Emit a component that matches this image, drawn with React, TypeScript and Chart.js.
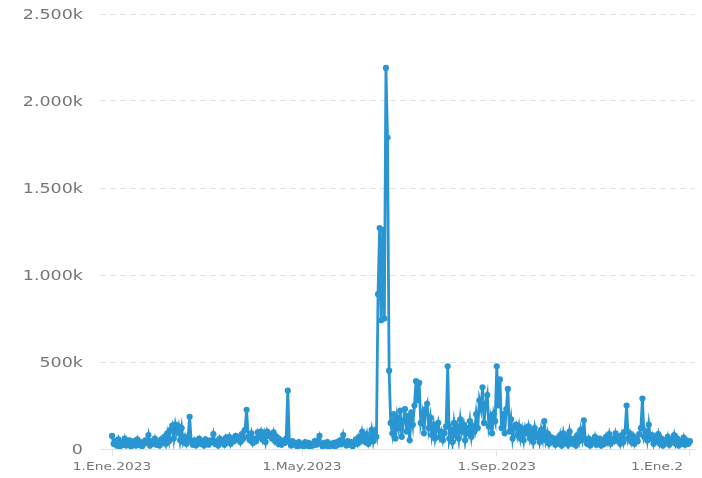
import React, { useEffect, useRef } from "react";
import { Chart, registerables } from "chart.js";

Chart.register(...registerables);

// Daily values (thousands), one per day from 1.Ene.2023 (day 0) to 1.Ene.2024 (day 365)
const dailyValues: number[] = [
  // days 0-39
  75, 30, 45, 20, 55, 15, 40, 25, 60, 20, 35, 50, 15, 30, 45, 20, 55, 25, 40, 15,
  30, 50, 35, 80, 20, 45, 30, 60, 25, 40, 20, 55, 35, 70, 30, 90, 45, 110, 135, 60,
  // days 40-79
  140, 95, 130, 50, 120, 40, 70, 30, 60, 185, 45, 25, 50, 20, 40, 60, 30, 45, 20, 55,
  35, 25, 50, 40, 85, 30, 45, 20, 60, 35, 50, 25, 65, 40, 70, 30, 60, 45, 75, 55,
  // days 80-119
  70, 40, 85, 60, 110, 225, 70, 50, 90, 35, 60, 45, 95, 70, 100, 55, 90, 40, 100, 75,
  85, 60, 95, 45, 70, 30, 55, 25, 45, 35, 60, 335, 40, 20, 45, 25, 35, 15, 40, 20,
  // days 120-159
  30, 15, 40, 20, 35, 10, 30, 20, 45, 25, 50, 75, 30, 15, 35, 20, 40, 10, 30, 20,
  35, 15, 40, 25, 50, 30, 80, 35, 20, 45, 25, 40, 15, 35, 55, 30, 70, 45, 100, 60,
  // days 160-199
  40, 85, 30, 55, 110, 45, 100, 70, 890, 1270, 740, 1260, 750, 2190, 1790, 450, 150, 90, 200, 60,
  180, 120, 220, 70, 160, 230, 100, 190, 50, 210, 140, 250, 390, 280, 380, 150, 200, 90, 230, 260,
  // days 200-239
  120, 180, 80, 140, 60, 110, 150, 70, 100, 50, 90, 130, 475, 60, 110, 40, 150, 80, 130, 60,
  170, 100, 140, 50, 120, 90, 160, 70, 130, 100, 200, 120, 280, 230, 355, 150, 260, 310, 130, 180,
  // days 240-279
  90, 200, 160, 475, 250, 400, 120, 200, 90, 230, 345, 100, 170, 60, 120, 140, 80, 130, 60, 110,
  50, 120, 90, 130, 60, 100, 40, 120, 70, 90, 40, 110, 60, 160, 50, 90, 30, 70, 40, 60,
  // days 280-319
  25, 60, 35, 80, 20, 90, 40, 70, 25, 100, 50, 30, 60, 20, 80, 45, 110, 60, 165, 50,
  30, 60, 20, 50, 35, 70, 25, 45, 60, 20, 50, 30, 70, 40, 85, 30, 60, 45, 90, 50,
  // days 320-365
  70, 30, 80, 40, 100, 250, 60, 90, 40, 75, 30, 60, 45, 85, 120, 290, 70, 100, 50, 140,
  60, 80, 30, 70, 45, 85, 30, 60, 20, 50, 35, 70, 25, 55, 40, 80, 30, 60, 20, 45,
  30, 65, 25, 50, 30, 45,
];

const xTickDays: number[] = [0, 120, 243, 365];
const xTickLabels: string[] = ["1.Ene.2023", "1.May.2023", "1.Sep.2023", "1.Ene.2"];
const yTickValues: number[] = [0, 500, 1000, 1500, 2000, 2500];
const yTickLabels: string[] = ["0", "500k", "1.000k", "1.500k", "2.000k", "2.500k"];

const LINE_COLOR = "#2996d2";
const TEXT_COLOR = "#757575";
const STRETCH = 1.25;

const axisLabelPlugin = {
  id: "axisLabelPlugin",
  afterDraw(chart: any) {
    const ctx: CanvasRenderingContext2D = chart.ctx;
    const xs = chart.scales.x;
    const ys = chart.scales.y;
    const area = chart.chartArea;
    ctx.save();
    ctx.fillStyle = TEXT_COLOR;
    ctx.font = "14px 'DejaVu Sans'";
    ctx.textBaseline = "middle";
    ctx.textAlign = "right";
    yTickValues.forEach((v, i) => {
      const y = ys.getPixelForValue(v);
      ctx.save();
      ctx.translate(area.left - 17, y + 1);
      ctx.scale(STRETCH, 1);
      ctx.fillText(yTickLabels[i], 0, 0);
      ctx.restore();
    });
    ctx.font = "11px 'DejaVu Sans'";
    xTickDays.forEach((d, i) => {
      const x = xs.getPixelForValue(d);
      const last = i === xTickDays.length - 1;
      ctx.save();
      ctx.textAlign = last ? "left" : "center";
      ctx.translate(last ? x - 59 : x, area.bottom + 18);
      ctx.scale(STRETCH, 1);
      ctx.fillText(xTickLabels[i], 0, 0);
      ctx.restore();
    });
    ctx.restore();
  },
};

export default function App() {
  const canvasRef = useRef<HTMLCanvasElement | null>(null);

  useEffect(() => {
    document.body.style.margin = "0";
    const canvas = canvasRef.current;
    if (!canvas) return;
    const points = dailyValues.map((v, i) => ({ x: i, y: v }));
    const chart = new Chart(canvas, {
      type: "line",
      data: {
        datasets: [
          {
            data: points,
            borderColor: LINE_COLOR,
            backgroundColor: LINE_COLOR,
            pointBackgroundColor: LINE_COLOR,
            pointBorderColor: LINE_COLOR,
            borderWidth: 2.8,
            pointRadius: 3.1,
            pointBorderWidth: 0,
            tension: 0,
            fill: false,
          },
        ],
      },
      options: {
        animation: false,
        responsive: false,
        devicePixelRatio: 1,
        layout: { padding: { top: 14, right: 7, bottom: 0, left: 0 } },
        plugins: {
          legend: { display: false },
          tooltip: { enabled: false },
        },
        scales: {
          x: {
            type: "linear",
            min: -7.6,
            max: 368.2,
            afterBuildTicks: (scale: any) => {
              scale.ticks = xTickDays.map((d) => ({ value: d }));
            },
            afterFit: (scale: any) => {
              scale.height = 29;
            },
            ticks: { display: false },
            grid: {
              display: true,
              drawOnChartArea: false,
              drawTicks: true,
              tickLength: 7,
              color: "#dde3ee",
            },
            border: { display: true, color: "#dde3ee", width: 1 },
          },
          y: {
            min: 0,
            max: 2500,
            afterBuildTicks: (scale: any) => {
              scale.ticks = yTickValues.map((v) => ({ value: v }));
            },
            afterFit: (scale: any) => {
              scale.width = 100;
            },
            ticks: { display: false },
            grid: {
              color: "#e4e4e4",
              lineWidth: 1,
              drawTicks: false,
            },
            border: { display: false, dash: [6, 4] },
          },
        },
      },
      plugins: [axisLabelPlugin],
    } as any);
    return () => chart.destroy();
  }, []);

  return (
    <div style={{ position: "absolute", left: 0, top: 0, width: 702, height: 478, background: "#fff" }}>
      <canvas ref={canvasRef} width={702} height={478} style={{ width: 702, height: 478, display: "block" }} />
    </div>
  );
}
